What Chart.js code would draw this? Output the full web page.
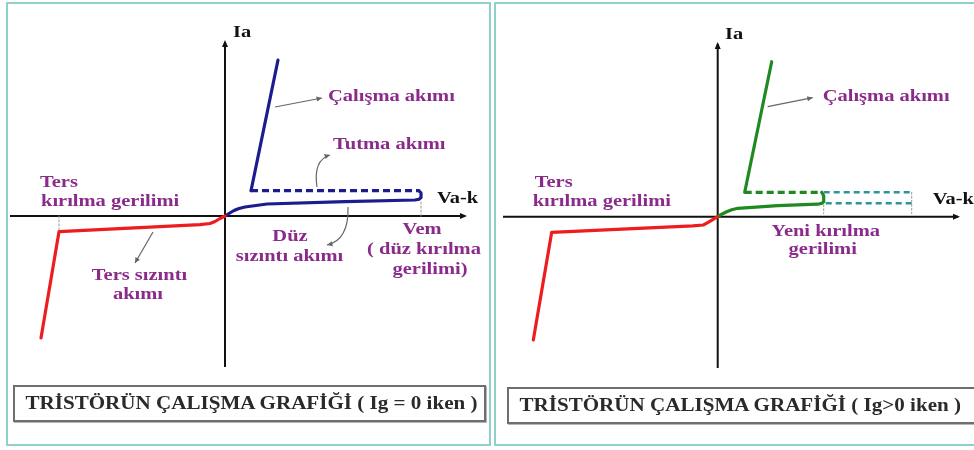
<!DOCTYPE html>
<html>
<head>
<meta charset="utf-8">
<script src="https://cdn.jsdelivr.net/npm/chart.js@4/dist/chart.umd.min.js"></script>
<style>
  body { margin: 0; background: #fff; width: 974px; height: 450px; overflow: hidden; position: relative; }
  .panel { position: absolute; top: 2px; height: 440px; border: 2px solid #8fd0c8; background: #fff; }
  canvas { position: absolute; top: 0; }
  .cap { position: absolute; height: 33px; border: 2px solid #6e6e6e; box-shadow: 1px 1px 0 #b5b5b5; background: #fff;
         font: bold 18px "Liberation Serif", serif; color: #2a2a2a; line-height: 33px; white-space: nowrap; overflow: hidden; }
  .cap span { display: inline-block; transform: scaleX(1.17); transform-origin: left center; padding-left: 9px; }
</style>
</head>
<body>
<div class="panel" style="left:6px; width:481px;"></div>
<div class="panel" style="left:494px; width:490px;"></div>
<canvas id="grafikSol" width="490" height="450" style="left:0"></canvas>
<canvas id="grafikSag" width="484" height="450" style="left:490px"></canvas>
<div class="cap" style="left:13px; top:385px; width:469px;"><span>TRİSTÖRÜN ÇALIŞMA GRAFİĞİ ( Ig = 0 iken )</span></div>
<div class="cap" style="left:507px; top:387px; width:480px;"><span>TRİSTÖRÜN ÇALIŞMA GRAFİĞİ ( Ig&gt;0 iken )</span></div>
<script>
// eksenler: x = Va-k, y = Ia (keyfi birim, orijin eksenlerin kesişimi)

// Ig = 0 iken
const solTers = [[0, 0], [-5, -2.5], [-10, -5.5], [-15, -7.5], [-25, -8.6], [-166, -15.7], [-184, -122]];
const solSizinti = [[0, 0], [4, 2.5], [9, 5.5], [14, 7.5], [20, 9], [42, 12], [120, 14.3], [190, 16], [194, 16.8], [196, 18.5], [196, 23], [194, 25.3]];
const solTutma = [[26, 25.3], [194, 25.3]];
const solCalisma = [[26, 25.3], [53, 156]];
const solTersKirilma = [[-166, 0], [-166, -15.7]];
const solVem = [[196, 0], [196, 16]];

// Ig > 0 iken
const sagTers = [[0, 0], [-5, -3], [-10, -6], [-14.4, -8.3], [-25, -9.2], [-166, -15.6], [-184.4, -123.3]];
const sagSizinti = [[0, 0], [4, 2.5], [9, 5], [14, 7], [20, 8.4], [60, 11], [100, 12.5], [104, 13.3], [106, 15], [106, 21], [104, 24.4]];
const sagTutma = [[27, 24.4], [104, 24.4]];
const sagCalisma = [[27, 24.4], [54, 155]];
const sagEskiUst = [[106, 24.4], [194, 24.4]];
const sagEskiAlt = [[108, 13.5], [194, 13.5]];
const sagEskiDikey = [[194, 24.4], [194, 3]];
const sagYeniKirilma = [[106, 12], [106, 3]];

const mor = '#8a2a8a';

const solYazilar = [
  { t: 'Ia', x: 8, y: 183, a: 'left', c: '#111', f: 17 },
  { t: 'Va-k', x: 212, y: 17, a: 'left', c: '#111', f: 17 },
  { t: 'Çalışma akımı', x: 103, y: 119, a: 'left' },
  { t: 'Tutma akımı', x: 108, y: 71, a: 'left' },
  { t: 'Ters', x: -185, y: 33, a: 'left' },
  { t: 'kırılma gerilimi', x: -184, y: 14, a: 'left' },
  { t: 'Düz', x: 65, y: -21, a: 'center' },
  { t: 'sızıntı akımı', x: 64.5, y: -41, a: 'center' },
  { t: 'Vem', x: 197, y: -14, a: 'center' },
  { t: '( düz kırılma', x: 199, y: -34, a: 'center' },
  { t: 'gerilimi)', x: 205, y: -54, a: 'center' },
  { t: 'Ters sızıntı', x: -85.5, y: -60, a: 'center' },
  { t: 'akımı', x: -87, y: -79, a: 'center' }
];
const sagYazilar = [
  { t: 'Ia', x: 7.3, y: 181.7, a: 'left', c: '#111', f: 17 },
  { t: 'Va-k', x: 215, y: 16.7, a: 'left', c: '#111', f: 17 },
  { t: 'Çalışma akımı', x: 105, y: 120, a: 'left' },
  { t: 'Ters', x: -183, y: 34, a: 'left' },
  { t: 'kırılma gerilimi', x: -185, y: 15, a: 'left' },
  { t: 'Yeni kırılma', x: 108, y: -15, a: 'center' },
  { t: 'gerilimi', x: 105, y: -33, a: 'center' }
];

// ok işaretleri: baş, kontrol noktası (eğri için), uç
const solOklar = [
  { p: [[50, 109], [97, 118]] },
  { p: [[92, 29], [88, 56], [105, 61]] },
  { p: [[123, 9], [124, -24], [102, -29]] },
  { p: [[-72, -16], [-90, -47]] }
];
const sagOklar = [
  { p: [[50, 110], [95, 119]] }
];

const nokta = (arr) => arr.map(([x, y]) => ({ x, y }));

function seri(veri, renk, ekstra) {
  return Object.assign({
    data: nokta(veri),
    showLine: true,
    borderColor: renk,
    borderWidth: 3.2,
    pointRadius: 0,
    tension: 0,
    borderCapStyle: 'round',
    borderJoinStyle: 'round'
  }, ekstra || {});
}

// eksen çizgileri ve ok başları
const eksenEklentisi = {
  id: 'eksen',
  beforeDatasetsDraw(chart) {
    const { ctx, chartArea: ca, scales } = chart;
    const x0 = scales.x.getPixelForValue(0);
    const y0 = scales.y.getPixelForValue(0);
    ctx.save();
    ctx.strokeStyle = '#111';
    ctx.fillStyle = '#111';
    ctx.lineWidth = 2;
    ctx.beginPath();
    ctx.moveTo(ca.left, y0); ctx.lineTo(ca.right - 2, y0);
    ctx.moveTo(x0, ca.bottom); ctx.lineTo(x0, ca.top + 2);
    ctx.stroke();
    ctx.beginPath();
    ctx.moveTo(ca.right, y0); ctx.lineTo(ca.right - 7, y0 - 3); ctx.lineTo(ca.right - 7, y0 + 3); ctx.closePath();
    ctx.moveTo(x0, ca.top); ctx.lineTo(x0 - 3, ca.top + 7); ctx.lineTo(x0 + 3, ca.top + 7); ctx.closePath();
    ctx.fill();
    ctx.restore();
  }
};

const yaziEklentisi = {
  id: 'yazi',
  afterDraw(chart, args, opts) {
    const { ctx, scales } = chart;
    const px = (p) => [scales.x.getPixelForValue(p[0]), scales.y.getPixelForValue(p[1])];
    ctx.save();
    // oklar
    ctx.strokeStyle = '#666';
    ctx.fillStyle = '#666';
    ctx.lineWidth = 1.2;
    opts.oklar.forEach((o) => {
      const p = o.p.map(px);
      ctx.beginPath();
      ctx.moveTo(p[0][0], p[0][1]);
      if (p.length === 3) ctx.quadraticCurveTo(p[1][0], p[1][1], p[2][0], p[2][1]);
      else ctx.lineTo(p[1][0], p[1][1]);
      ctx.stroke();
      const son = p[p.length - 1], once = p[p.length - 2];
      const aci = Math.atan2(son[1] - once[1], son[0] - once[0]);
      ctx.beginPath();
      ctx.moveTo(son[0], son[1]);
      ctx.lineTo(son[0] - 6 * Math.cos(aci - 0.45), son[1] - 6 * Math.sin(aci - 0.45));
      ctx.lineTo(son[0] - 6 * Math.cos(aci + 0.45), son[1] - 6 * Math.sin(aci + 0.45));
      ctx.closePath();
      ctx.fill();
    });
    // yazılar
    ctx.textBaseline = 'middle';
    opts.yazilar.forEach((y) => {
      const [x, yy] = px([y.x, y.y]);
      ctx.save();
      ctx.translate(x, yy);
      ctx.scale(y.f ? 1.2 : 1.28, 1);
      ctx.font = 'bold ' + (y.f || 16) + 'px "Liberation Serif", serif';
      ctx.fillStyle = y.c || mor;
      ctx.textAlign = y.a;
      ctx.fillText(y.t, 0, 0);
      ctx.restore();
    });
    ctx.restore();
  }
};

function secenekler(xmin, xmax, ymin, ymax, pad, yazilar, oklar) {
  return {
    responsive: false,
    animation: false,
    layout: { padding: pad },
    scales: {
      x: { type: 'linear', min: xmin, max: xmax, display: false },
      y: { type: 'linear', min: ymin, max: ymax, display: false }
    },
    plugins: {
      legend: { display: false },
      tooltip: { enabled: false },
      yazi: { yazilar: yazilar, oklar: oklar }
    }
  };
}

const ince = { borderWidth: 1, borderDash: [2, 2], borderColor: '#9a9a9a' };

new Chart(document.getElementById('grafikSol'), {
  type: 'scatter',
  data: {
    datasets: [
      seri(solTersKirilma, '#9a9a9a', ince),
      seri(solVem, '#9a9a9a', ince),
      seri(solTers, '#ee1d1d'),
      seri(solSizinti, '#1c1c8e'),
      seri(solTutma, '#1c1c8e', { borderDash: [7, 4], borderCapStyle: 'butt' }),
      seri(solCalisma, '#1c1c8e')
    ]
  },
  options: secenekler(-215, 242, -151, 176, { left: 10, right: 23, top: 40, bottom: 83 }, solYazilar, solOklar),
  plugins: [eksenEklentisi, yaziEklentisi]
});

new Chart(document.getElementById('grafikSag'), {
  type: 'scatter',
  data: {
    datasets: [
      seri(sagYeniKirilma, '#9a9a9a', ince),
      seri(sagEskiDikey, '#7aa', ince),
      seri(sagEskiUst, '#2a9696', { borderWidth: 2.5, borderDash: [6, 4], borderCapStyle: 'butt' }),
      seri(sagEskiAlt, '#2a9696', { borderWidth: 2.5, borderDash: [6, 4], borderCapStyle: 'butt' }),
      seri(sagTers, '#ee1d1d'),
      seri(sagSizinti, '#1f8a1f'),
      seri(sagTutma, '#1f8a1f', { borderDash: [7, 4], borderCapStyle: 'butt' }),
      seri(sagCalisma, '#1f8a1f')
    ]
  },
  options: secenekler(-214.7, 242.3, -151.3, 174.7, { left: 13, right: 14, top: 42, bottom: 82 }, sagYazilar, sagOklar),
  plugins: [eksenEklentisi, yaziEklentisi]
});
</script>
</body>
</html>
